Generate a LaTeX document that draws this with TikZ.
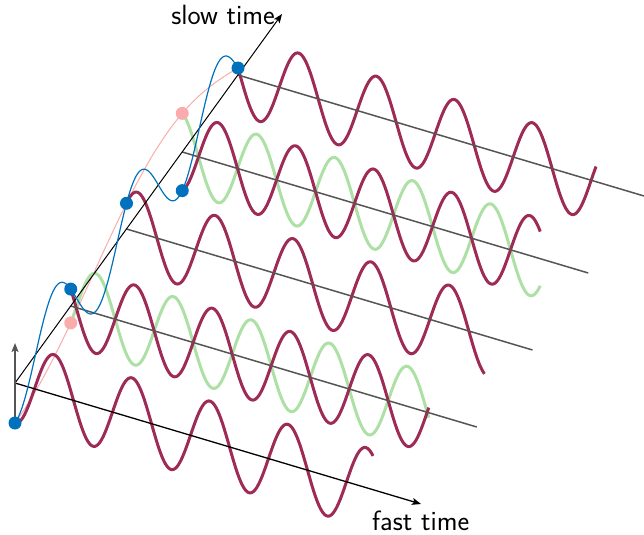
\documentclass[tikz,border=0pt]{standalone}
\usepackage{fontspec}
\usetikzlibrary{arrows.meta}
\definecolor{wavered}{RGB}{158,43,85}
\definecolor{wavegreen}{RGB}{172,224,164}
\definecolor{sampblue}{RGB}{0,114,189}
\definecolor{truepink}{RGB}{250,172,172}
\definecolor{basegray}{RGB}{85,85,85}
\begin{document}
\begin{tikzpicture}[x=1bp,y=-1bp,
  redwave/.style={wavered,line width=3bp},
  greenwave/.style={wavegreen,line width=3bp},
  baseln/.style={basegray,line width=1.5bp},
  axisarrow/.style={black,-{Stealth[length=9bp,width=7bp,inset=2bp]}},
  bluedot/.style={circle,fill=sampblue,inner sep=0pt,minimum size=13bp},
  pinkdot/.style={circle,fill=truepink,inner sep=0pt,minimum size=13bp},
  lbl/.style={font=\fontsize{28}{32}\selectfont\sffamily,inner sep=0pt}]
\useasboundingbox (0,0) rectangle (644,535);
\def\Ox{15}\def\Oy{383}\def\Sx{55.75}\def\Sy{-77}\def\Fs{0.298}\def\Amp{40}\def\Deg{4.61538}
\coordinate (O) at (\Ox,\Oy);
\coordinate (fasttip) at (421,504);
\coordinate (slowtip) at (282,14);
\coordinate (zlow) at (15,423);
\coordinate (ztip) at (15,343);
% true slow-time signal (pink)
\draw[truepink,line width=1bp] plot[domain=0:4,samples=160,smooth] ({\Ox+\x*\Sx},{\Oy+\x*\Sy+\Amp*cos(65*\x)});
% pulses, back to front
\foreach \k in {4,3,2,1,0}{
  \ifodd\k
    \draw[greenwave] plot[domain=0:358,samples=260,smooth] ({\Ox+\k*\Sx+\x},{\Oy+\k*\Sy+\Fs*\x+\Amp*cos(\x*\Deg+65*\k)});
  \fi
  \draw[redwave] plot[domain=0:358,samples=260,smooth] ({\Ox+\k*\Sx+\x},{\Oy+\k*\Sy+\Fs*\x+\Amp*cos(\x*\Deg+245*\k)});
  \ifnum\k>0
    \coordinate (b\k) at ({\Ox+\k*\Sx},{\Oy+\k*\Sy});
    \coordinate (e\k) at ({\Ox+\k*\Sx+406},{\Oy+\k*\Sy+121});
    \draw[baseln] (b\k) -- (e\k);
  \fi
}
% axes
\draw[axisarrow,line width=1.3bp] (O) -- (fasttip);
\draw[axisarrow,line width=1bp] (O) -- (slowtip);
\draw[basegray,line width=2bp,-{Stealth[length=9bp,width=7bp,inset=2bp]}] (zlow) -- (ztip);
% sampled (aliased) slow-time signal (blue)
\draw[sampblue,line width=1.2bp] plot[domain=0:4,samples=220,smooth] ({\Ox+\x*\Sx},{\Oy+\x*\Sy+\Amp*cos(245*\x)});
% sample dots
\foreach \k in {1,3}{
  \node[pinkdot] (p\k) at ({\Ox+\k*\Sx},{\Oy+\k*\Sy+\Amp*cos(65*\k)}) {};
}
\foreach \k in {0,...,4}{
  \node[bluedot] (s\k) at ({\Ox+\k*\Sx},{\Oy+\k*\Sy+\Amp*cos(245*\k)}) {};
}
% labels
\node[lbl,anchor=base east] (slowlbl) at (275,25) {slow time};
\node[lbl,anchor=base west] (fastlbl) at (372,530) {fast time};
\end{tikzpicture}
\end{document}
